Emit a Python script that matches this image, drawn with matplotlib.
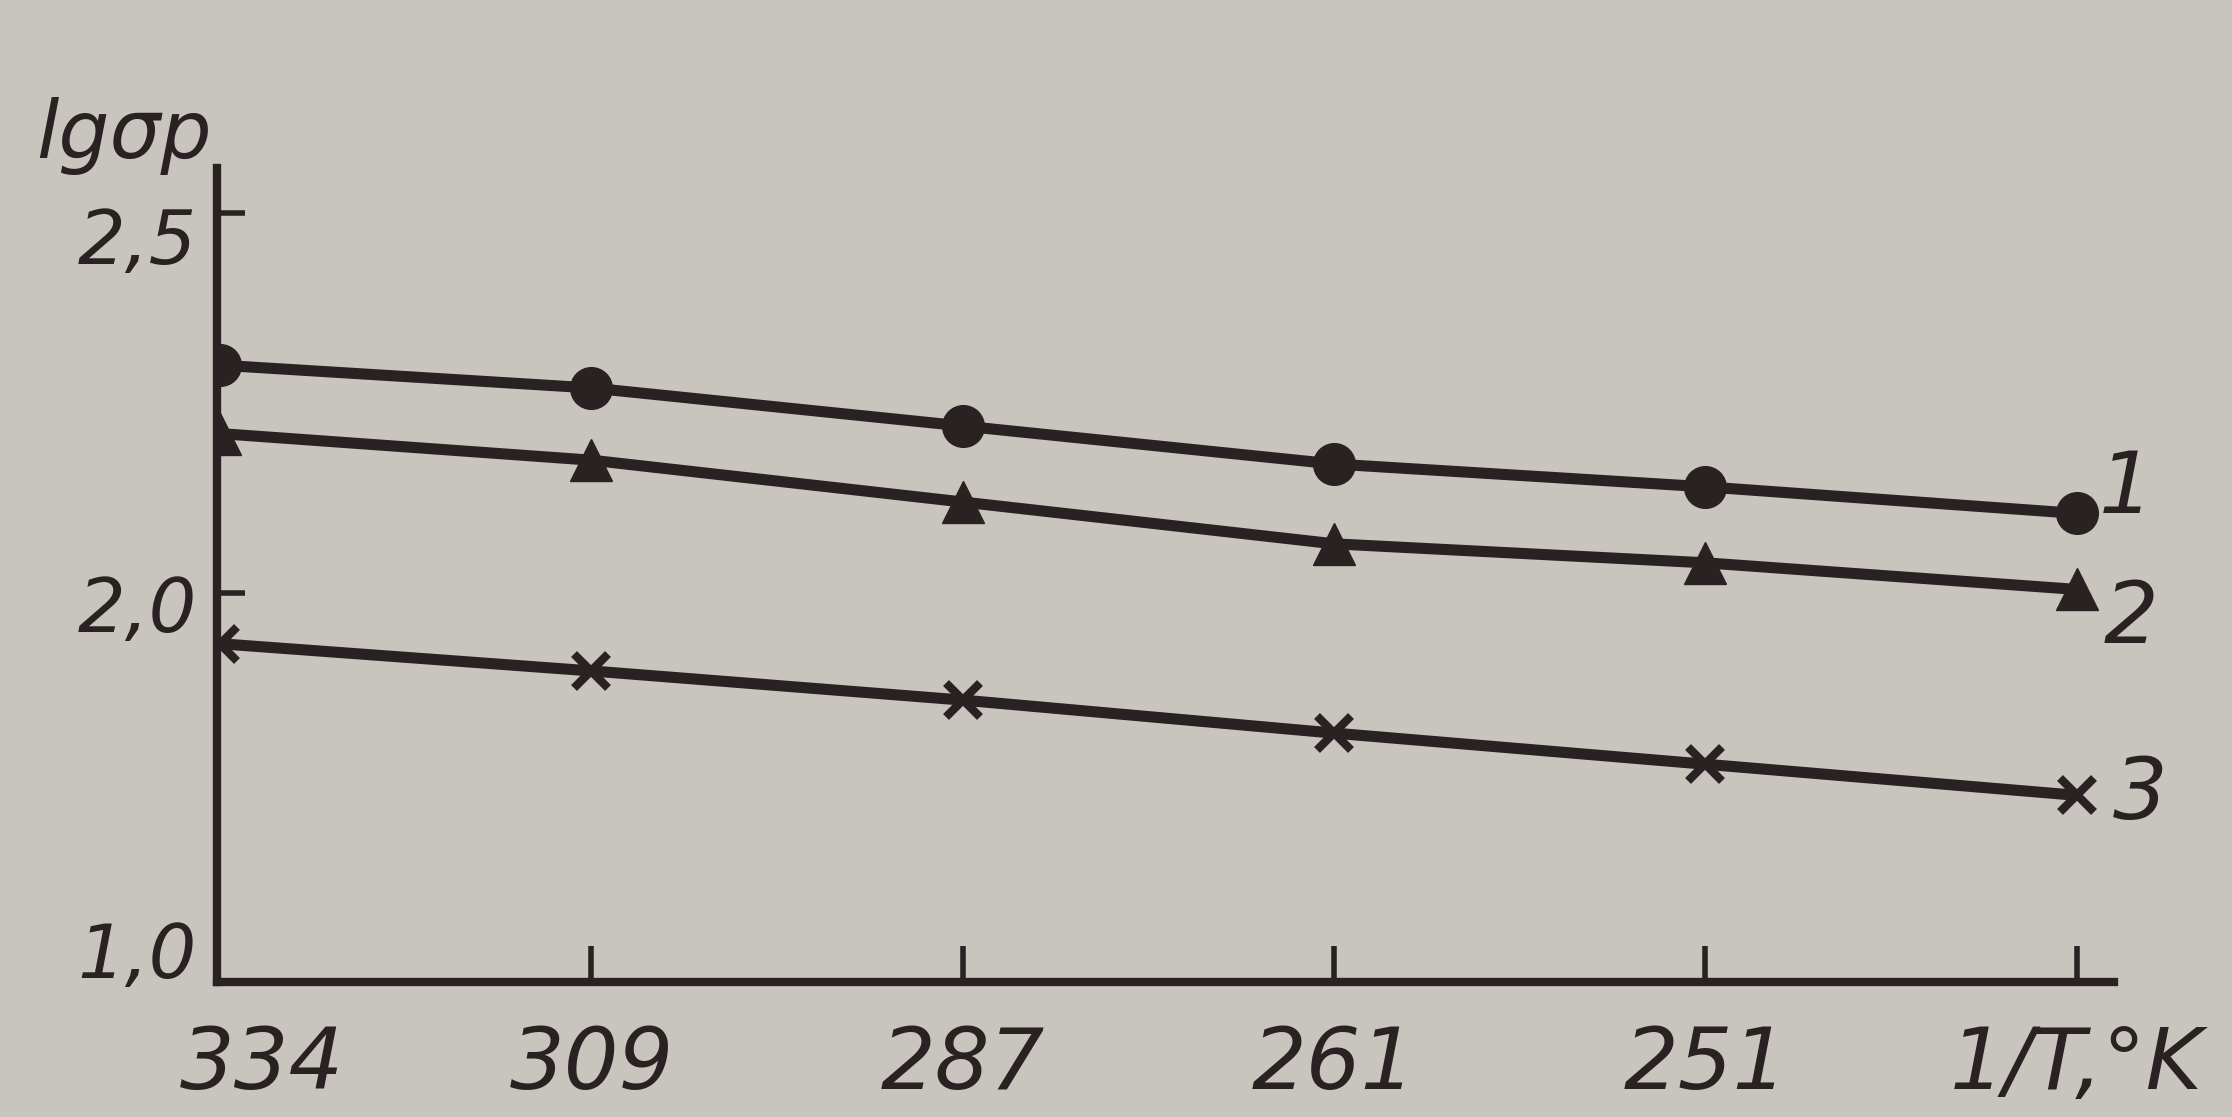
import numpy as np
import matplotlib.pyplot as plt
from matplotlib.transforms import ScaledTranslation

# x categories (last slot carries the axis name)
x_labels = ['334', '309', '287', '261', '251', '1/T,°K']
# lg sigma_p, one value per x slot
curve_1 = [2.30, 2.27, 2.22, 2.17, 2.14, 2.105]
curve_2 = [2.21, 2.175, 2.12, 2.065, 2.04, 2.005]
curve_3 = [1.87, 1.80, 1.725, 1.64, 1.56, 1.48]
curve_names = ['1', '2', '3']
y_ticks = [1.0, 2.0, 2.5]
y_ticklabels = ['1,0', '2,0', '2,5']

# the printed axis is stretched above 2,0
k = 1.956
def fwd(v):
    v = np.asarray(v, dtype=float)
    return np.where(v <= 2, v - 1, 1 + (v - 2) * k)

def inv(t):
    t = np.asarray(t, dtype=float)
    return np.where(t <= 1, t + 1, 2 + (t - 1) / k)

bg = '#c8c5be'
ink = '#2a2222'

fig = plt.figure(figsize=(22.32, 11.17), dpi=100, facecolor=bg)
ax = fig.add_axes([0.097, 0.121, 0.850, 0.729])
ax.set_facecolor(bg)
ax.set_yscale('function', functions=(fwd, inv))

xs = np.arange(len(x_labels))
ax.plot(xs, curve_1, color=ink, lw=8, marker='o', ms=30, solid_capstyle='round')
ax.plot(xs, curve_2, color=ink, lw=8, marker='^', ms=30, solid_capstyle='round')
ax.plot(xs, curve_3, color=ink, lw=8, marker='x', ms=24, mew=6, solid_capstyle='round')

offsets = [(50, 24), (54, -30), (64, 0)]
for name, ys, off in zip(curve_names, [curve_1, curve_2, curve_3], offsets):
    ax.annotate(name, (xs[-1], ys[-1]), xytext=off, textcoords='offset pixels',
                ha='center', va='center', fontsize=62, style='italic', color=ink)

ax.set_xlim(-0.01, 5.1)
ax.set_ylim(1.0, 2.56)
ax.set_xticks(xs)
ax.set_xticklabels(x_labels, fontsize=62, style='italic', color=ink)
ax.set_yticks(y_ticks)
ax.set_yticklabels(y_ticklabels, fontsize=54, style='italic', color=ink)
ax.tick_params(axis='x', direction='in', length=26, width=4, color=ink, pad=30)
ax.tick_params(axis='y', direction='in', length=20, width=4, color=ink, pad=14)

# no tick marks in the corner
ax.xaxis.get_major_ticks()[0].tick1line.set_visible(False)
ax.yaxis.get_major_ticks()[0].tick1line.set_visible(False)

# small nudges of single labels
lab = ax.get_xticklabels()
lab[0].set_transform(lab[0].get_transform() + ScaledTranslation(0.42, 0, fig.dpi_scale_trans))
ylab = ax.get_yticklabels()
for t, dy in zip(ylab, [0.32, -0.1, -0.22]):
    t.set_transform(t.get_transform() + ScaledTranslation(0, dy, fig.dpi_scale_trans))

for s in ['top', 'right']:
    ax.spines[s].set_visible(False)
for s in ['left', 'bottom']:
    ax.spines[s].set_linewidth(6)
    ax.spines[s].set_color(ink)

fig.text(0.016, 0.878, 'lgσр', fontsize=58, style='italic', color=ink, va='center')

fig.savefig('out.png', dpi=100, facecolor=bg)
